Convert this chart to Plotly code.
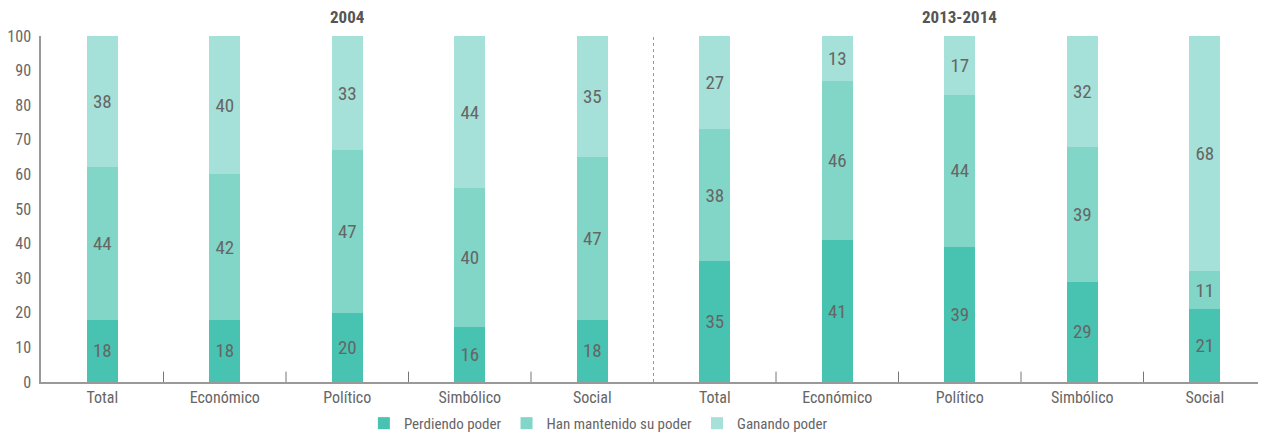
import plotly.graph_objects as go

categories = ["Total", "Económico", "Político", "Simbólico", "Social",
              "Total", "Económico", "Político", "Simbólico", "Social"]
groups = ["2004", "2013-2014"]
perdiendo = [18, 18, 20, 16, 18, 35, 41, 39, 29, 21]
mantenido = [44, 42, 47, 40, 47, 38, 46, 44, 39, 11]
ganando = [38, 40, 33, 44, 35, 27, 13, 17, 32, 68]
series_names = ["Perdiendo poder", "Han mantenido su poder", "Ganando poder"]
colors = ["#48C3B1", "#82D6C8", "#A5E1D8"]
y_ticks = [0, 10, 20, 30, 40, 50, 60, 70, 80, 90, 100]

FONT = "Liberation Sans Narrow, Roboto Condensed, Arial Narrow, sans-serif"
TXT = "#666666"

x = list(range(len(categories)))
fig = go.Figure()
for name, vals, col in zip(series_names, [perdiendo, mantenido, ganando], colors):
    fig.add_trace(go.Bar(
        x=x, y=vals, name=name, marker=dict(color=col, line=dict(width=0)),
        width=0.25, text=vals, textposition="inside", insidetextanchor="middle",
        textangle=0, constraintext="none",
        textfont=dict(family=FONT, size=19, color=TXT),
    ))

n = len(categories)
half = n // len(groups)
shapes = []
for b in range(1, n):
    if b == half:
        shapes.append(dict(type="line", xref="x", yref="y", x0=b - 0.5, x1=b - 0.5,
                           y0=0, y1=100, line=dict(color="#999999", width=1, dash="3px,3px")))
    else:
        shapes.append(dict(type="line", xref="x", yref="y", x0=b - 0.5, x1=b - 0.5,
                           y0=0, y1=3, line=dict(color="#777777", width=1)))

annotations = []
for gi, g in enumerate(groups):
    annotations.append(dict(x=gi * half + (half - 1) / 2, y=1.02, xref="x", yref="paper",
                            text="<b>" + g + "</b>", showarrow=False, yanchor="bottom",
                            font=dict(family=FONT, size=17, color="#555555")))

fig.update_layout(
    barmode="stack", width=1258, height=427,
    margin=dict(l=33, r=0, t=28, b=53, autoexpand=False),
    plot_bgcolor="white", paper_bgcolor="white",
    font=dict(family=FONT, color=TXT, size=15),
    showlegend=True,
    legend=dict(orientation="h", traceorder="normal", x=0.455, xanchor="center",
                yref="paper", y=-0.072, yanchor="top",
                font=dict(family=FONT, size=15, color=TXT), itemwidth=30),
    xaxis=dict(range=[-0.5, n - 0.5], tickmode="array", tickvals=x, ticktext=categories,
               showline=True, linecolor="#999999", linewidth=1.5, ticks="", showgrid=False,
               zeroline=False, tickfont=dict(family=FONT, size=16, color=TXT)),
    yaxis=dict(range=[0, 100], tickmode="array", tickvals=y_ticks, showline=True,
               linecolor="#999999", linewidth=1.5, ticks="", showgrid=False, zeroline=False,
               tickfont=dict(family=FONT, size=16, color=TXT), ticklabelstandoff=5),
    shapes=shapes, annotations=annotations,
)

fig.write_html("out.html")
